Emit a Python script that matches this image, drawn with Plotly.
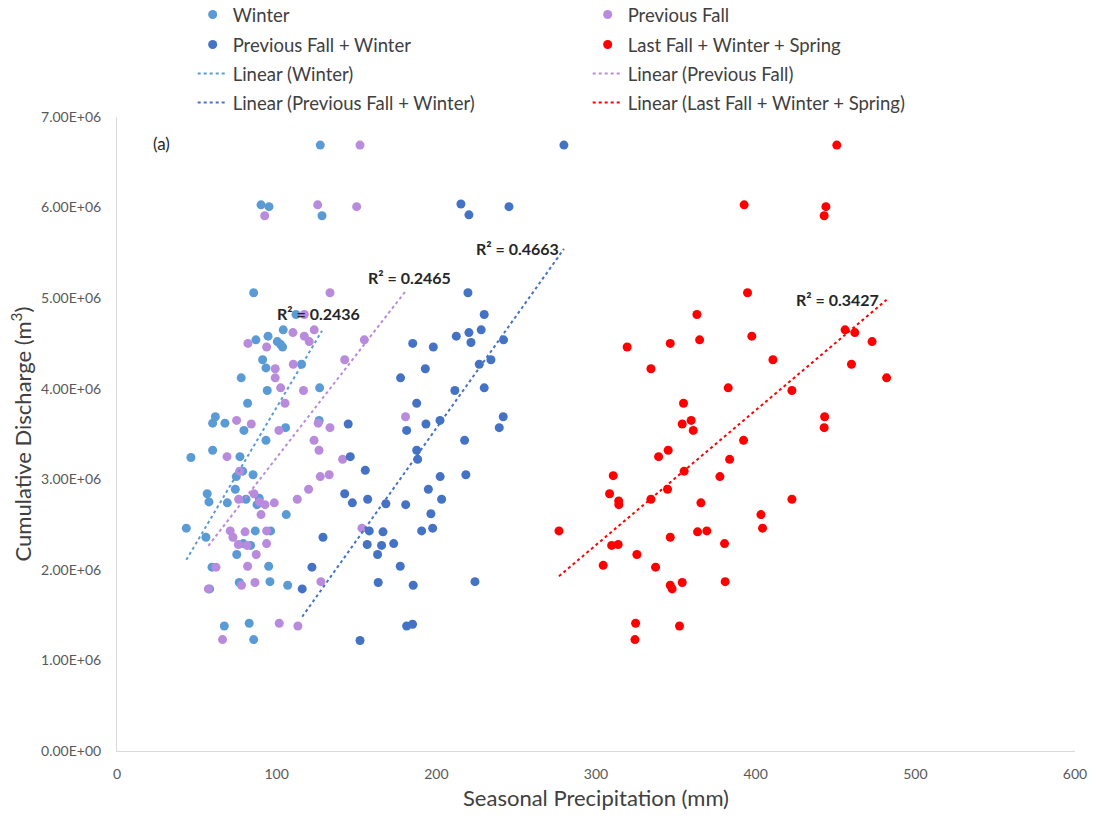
import numpy as np
import plotly.graph_objects as go

# Seasonal precipitation (mm) and cumulative discharge (millions of m3) per year
winter_x = [127.3, 90.2, 95.2, 128.4, 85.6, 112.1, 104.1, 94.6, 87.0, 100.4, 102.4, 103.7, 91.2, 93.3,
            115.6, 77.8, 94.1, 126.9, 81.8, 61.6, 59.9, 67.6, 79.5, 105.6, 126.6, 93.3, 59.9, 46.3,
            77.0, 74.7, 78.7, 85.2, 56.5, 57.6, 69.1, 74.1, 80.8, 89.1, 87.7, 106.0, 43.4, 55.7,
            86.6, 96.2, 79.1, 83.7, 75.0, 59.5, 95.0, 58.0, 76.6, 95.8, 106.9, 67.2, 82.8, 85.6]
winter_y = [6.69, 6.03, 6.01, 5.91, 5.06, 4.82, 4.65, 4.58, 4.54, 4.52, 4.49, 4.46, 4.32, 4.23,
            4.27, 4.12, 3.98, 4.01, 3.84, 3.69, 3.62, 3.62, 3.54, 3.57, 3.65, 3.43, 3.32, 3.24,
            3.25, 3.03, 3.09, 3.05, 2.84, 2.75, 2.74, 2.89, 2.78, 2.79, 2.72, 2.61, 2.46, 2.36,
            2.43, 2.43, 2.29, 2.27, 2.17, 2.03, 2.04, 1.79, 1.86, 1.87, 1.83, 1.38, 1.41, 1.23]

fall_x = [152.2, 125.7, 150.1, 92.5, 133.4, 117.3, 123.5, 110.2, 117.3, 120.4, 82.0, 93.7, 154.9,
          142.6, 110.4, 99.1, 99.1, 102.5, 116.8, 105.2, 74.9, 84.1, 101.4, 126.0, 133.4, 123.4,
          126.5, 68.9, 141.3, 127.3, 132.9, 120.0, 112.9, 76.8, 85.8, 76.2, 89.3, 92.7, 98.5, 90.2,
          70.9, 80.2, 93.7, 72.6, 153.4, 76.0, 81.4, 93.7, 87.2, 62.0, 81.8, 57.2, 78.0, 86.4,
          127.7, 101.6, 113.3, 66.1, 180.7]
fall_y = [6.69, 6.03, 6.01, 5.91, 5.06, 4.82, 4.65, 4.62, 4.58, 4.52, 4.50, 4.46, 4.54,
          4.32, 4.27, 4.22, 4.12, 4.01, 3.98, 3.84, 3.65, 3.61, 3.54, 3.62, 3.57, 3.43,
          3.32, 3.25, 3.22, 3.03, 3.05, 2.89, 2.78, 3.09, 2.84, 2.78, 2.75, 2.72, 2.74, 2.61,
          2.43, 2.42, 2.43, 2.36, 2.46, 2.28, 2.27, 2.29, 2.17, 2.03, 2.04, 1.79, 1.83, 1.86,
          1.87, 1.41, 1.38, 1.23, 3.69]

fw_x = [279.9, 215.4, 220.4, 245.5, 219.8, 230.0, 220.4, 228.1, 212.5, 221.7, 185.2, 198.1, 242.1,
        226.9, 234.2, 193.1, 177.6, 211.6, 230.0, 187.7, 241.9, 239.4, 193.5, 181.4, 202.3, 144.8,
        217.7, 187.7, 188.3, 146.1, 155.5, 202.4, 218.5, 195.0, 203.3, 142.6, 147.4, 157.0, 168.4,
        180.8, 196.6, 190.8, 197.7, 158.0, 166.6, 156.7, 165.7, 173.3, 163.2, 177.4, 163.6, 185.5,
        224.2, 181.4, 185.1, 152.2, 129.0, 122.1, 116.0]
fw_y = [6.69, 6.04, 5.92, 6.01, 5.06, 4.82, 4.62, 4.65, 4.58, 4.51, 4.50, 4.46, 4.54,
        4.27, 4.32, 4.22, 4.12, 3.98, 4.01, 3.84, 3.69, 3.57, 3.61, 3.54, 3.65, 3.61,
        3.43, 3.32, 3.22, 3.25, 3.10, 3.03, 3.05, 2.89, 2.78, 2.84, 2.74, 2.78, 2.73,
        2.72, 2.62, 2.43, 2.46, 2.43, 2.42, 2.28, 2.27, 2.29, 2.17, 2.04, 1.86, 1.83,
        1.87, 1.38, 1.40, 1.22, 2.36, 2.03, 1.79]

fws_x = [450.8, 392.8, 444.0, 442.9, 394.9, 363.2, 319.5, 346.5, 364.9, 397.6, 456.0, 462.1, 472.9,
         334.4, 410.8, 460.0, 482.0, 382.8, 422.7, 354.8, 354.0, 359.6, 360.9, 443.2, 442.9, 392.4,
         345.2, 339.2, 383.7, 310.8, 355.2, 377.6, 344.8, 334.4, 308.5, 314.2, 314.3, 365.7, 422.7,
         403.3, 404.3, 276.8, 346.5, 363.6, 369.4, 309.8, 313.9, 380.5, 325.6, 304.5, 337.3, 346.5,
         347.7, 354.0, 380.9, 324.8, 352.3, 324.4]
fws_y = [6.69, 6.03, 6.01, 5.91, 5.06, 4.82, 4.46, 4.50, 4.54, 4.58, 4.65, 4.62, 4.52,
         4.22, 4.32, 4.27, 4.12, 4.01, 3.98, 3.84, 3.61, 3.65, 3.54, 3.69, 3.57, 3.43,
         3.32, 3.25, 3.22, 3.04, 3.09, 3.03, 2.89, 2.78, 2.84, 2.76, 2.72, 2.74, 2.78,
         2.61, 2.46, 2.43, 2.36, 2.42, 2.43, 2.27, 2.28, 2.29, 2.17, 2.05, 2.03, 1.83,
         1.79, 1.86, 1.87, 1.41, 1.38, 1.23]

series_names = ["Winter", "Previous Fall", "Previous Fall + Winter", "Last Fall + Winter + Spring"]
r2_labels = ["R² = 0.2436", "R² = 0.2465", "R² = 0.4663", "R² = 0.3427"]
y_tick_values = [0, 1e6, 2e6, 3e6, 4e6, 5e6, 6e6, 7e6]
y_tick_labels = ["0.00E+00", "1.00E+06", "2.00E+06", "3.00E+06", "4.00E+06", "5.00E+06", "6.00E+06", "7.00E+06"]
x_tick_values = [0, 100, 200, 300, 400, 500, 600]

colors = ["#5B9BD5", "#B98BDD", "#4472C4", "#FF0000"]
xs = [winter_x, fall_x, fw_x, fws_x]
ys = [winter_y, fall_y, fw_y, fws_y]
# R² label anchors (data coords)
label_pos = [(126, 4.83e6), (183.5, 5.23e6), (251, 5.55e6), (451.5, 4.98e6)]

FONT = "Lato, 'Open Sans', sans-serif"
fig = go.Figure()

# legend rows: markers (rows 1-2), trendlines (rows 3-4)
legend_of_marker = ["legend", "legend", "legend2", "legend2"]
legend_of_line = ["legend3", "legend3", "legend4", "legend4"]

for i in range(4):
    fig.add_trace(go.Scatter(
        x=xs[i], y=[v * 1e6 for v in ys[i]], mode="markers", name=series_names[i],
        marker=dict(color=colors[i], size=9, line=dict(width=0)),
        legend=legend_of_marker[i]))

for i in range(4):
    xa = np.array(xs[i])
    ya = np.array(ys[i]) * 1e6
    slope, icpt = np.polyfit(xa, ya, 1)
    xl = np.array([xa.min(), xa.max()])
    fig.add_trace(go.Scatter(
        x=xl, y=slope * xl + icpt, mode="lines", name=f"Linear ({series_names[i]})",
        line=dict(color=colors[i], width=2, dash="dot"),
        legend=legend_of_line[i]))

for i in range(4):
    fig.add_annotation(x=label_pos[i][0], y=label_pos[i][1], text=f"<b>{r2_labels[i]}</b>",
                       showarrow=False, font=dict(family=FONT, size=16, color="#262626"))

fig.add_annotation(x=0.036, y=0.978, xref="paper", yref="paper", text="(a)", showarrow=False,
                   font=dict(family=FONT, size=17, color="#262626"))

legend_rows_y = [15, 45, 74, 103]
plot_top, plot_bottom = 117, 751
def row_y(py):
    return (plot_bottom - py) / (plot_bottom - plot_top)

legend_style = dict(orientation="h", x=0.079, xanchor="left", yanchor="middle",
                    entrywidth=350, entrywidthmode="pixels", bgcolor="rgba(0,0,0,0)",
                    font=dict(family=FONT, size=18.5, color="#404040"), itemclick=False)
fig.update_layout(
    legend=dict(y=row_y(legend_rows_y[0]), **legend_style),
    legend2=dict(y=row_y(legend_rows_y[1]), **legend_style),
    legend3=dict(y=row_y(legend_rows_y[2]), **legend_style),
    legend4=dict(y=row_y(legend_rows_y[3]), **legend_style),
)

fig.update_layout(
    width=1095, height=824,
    margin=dict(l=117, r=20, t=117, b=73, autoexpand=False),
    paper_bgcolor="white", plot_bgcolor="white",
    font=dict(family=FONT, color="#595959"),
    xaxis=dict(range=[0, 600], tickvals=x_tick_values, showgrid=False, zeroline=False,
               showline=True, linecolor="#D9D9D9", linewidth=1, ticks="", ticklabelstandoff=10,
               tickfont=dict(size=14, color="#595959"),
               title=dict(text="Seasonal Precipitation (mm)", font=dict(size=22, color="#404040"), standoff=9)),
    yaxis=dict(range=[0, 7e6], tickvals=y_tick_values, ticktext=y_tick_labels, showgrid=False,
               zeroline=False, showline=True, linecolor="#D9D9D9", linewidth=1, ticks="",
               ticklabelstandoff=12,
               tickfont=dict(size=14, color="#595959"),
               title=dict(text="Cumulative Discharge (m<sup>3</sup>)", font=dict(size=22, color="#404040"), standoff=3)),
)

fig.write_html("out.html")
